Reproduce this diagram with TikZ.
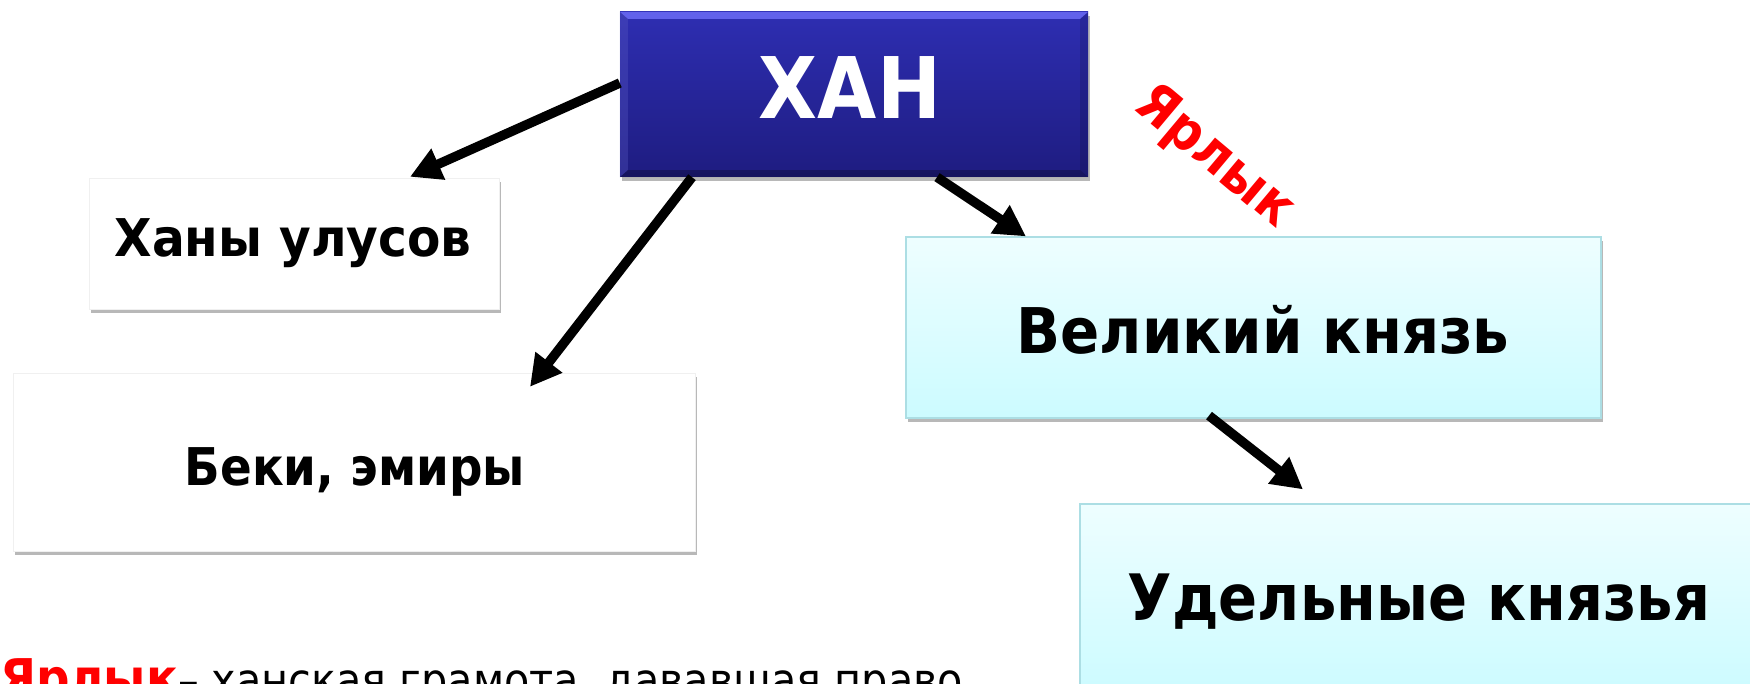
\documentclass[tikz,border=0pt]{standalone}
\usepackage{fontspec}
\setmainfont{DejaVu Sans}
\newfontfamily\cond{DejaVu Sans Condensed}
\usetikzlibrary{arrows.meta,shadows,calc}
\definecolor{khanA}{RGB}{46,46,178}
\definecolor{khanB}{RGB}{30,28,128}
\definecolor{bevelT}{RGB}{98,98,235}
\definecolor{cyanA}{RGB}{238,254,255}
\definecolor{cyanB}{RGB}{204,251,255}
\definecolor{cyanD}{RGB}{172,222,228}
\tikzset{
  boxshadow/.style={drop shadow={shadow xshift=1.5pt, shadow yshift=-4pt, fill=black, opacity=0.28}},
  khanbox/.style={rectangle, inner sep=0pt, top color=khanA, bottom color=khanB, draw=none, boxshadow},
  whitebox/.style={rectangle, inner sep=0pt, fill=white, draw=black!6, boxshadow},
  cyanbox/.style={rectangle, inner sep=0pt, top color=cyanA, bottom color=cyanB, draw=cyanD, line width=1.2pt, boxshadow},
  lbl/.style={inner sep=0pt, anchor=base, font=\cond\bfseries},
  arr/.style={line width=9.5pt, -{Triangle[length=31pt,width=32pt]}},
}
\begin{document}
\begin{tikzpicture}[x=1pt,y=-1pt]
\useasboundingbox (0,0) rectangle (1750,684);
\clip (0,0) rectangle (1750,684);
\fill[white] (0,0) rectangle (1750,684);

% boxes
\node[khanbox, minimum width=468pt, minimum height=165pt] (khan) at (854,94.5) {};
\fill[bevelT] (khan.north west) -- (khan.north east) -- ([xshift=-8pt,yshift=-7pt]khan.north east) -- ([xshift=8pt,yshift=-7pt]khan.north west) -- cycle;
\fill[khanA!80!white, opacity=0.35] (khan.north west) -- ([xshift=8pt,yshift=-7pt]khan.north west) -- ([xshift=8pt,yshift=7pt]khan.south west) -- (khan.south west) -- cycle;
\fill[black, opacity=0.25] (khan.south west) -- (khan.south east) -- ([xshift=-8pt,yshift=7pt]khan.south east) -- ([xshift=8pt,yshift=7pt]khan.south west) -- cycle;
\fill[black, opacity=0.12] (khan.north east) -- ([xshift=-8pt,yshift=-7pt]khan.north east) -- ([xshift=-8pt,yshift=7pt]khan.south east) -- (khan.south east) -- cycle;

\node[whitebox, minimum width=410pt, minimum height=131pt] (ulus) at (294,243.5) {};
\node[whitebox, minimum width=682pt, minimum height=178pt] (beki) at (354,462) {};
\node[cyanbox, minimum width=695pt, minimum height=181pt] (velik) at (1253.5,327.5) {};
\node[cyanbox, minimum width=690pt, minimum height=190pt] (udel) at (1425,599) {};

% labels
\node[lbl, text=white, font=\cond\bfseries\fontsize{85}{90}\selectfont] (khanT) at (850,119) {ХАН};
\node[lbl, font=\cond\bfseries\fontsize{52}{57}\selectfont] (ulusT) at (293,257) {\addfontfeature{FakeStretch=1.04}Ханы улусов};
\node[lbl, font=\cond\bfseries\fontsize{52}{57}\selectfont] (bekiT) at (355,485) {Беки, эмиры};
\node[lbl, font=\cond\bfseries\fontsize{63}{68}\selectfont] (velikT) at (1263,353) {\addfontfeature{FakeStretch=1.02}Великий князь};
\node[lbl, font=\cond\bfseries\fontsize{64}{69}\selectfont] (udelT) at (1419,620) {Удельные князья};

% rotated label
\node[inner sep=0pt, rotate=-40, text=red, font=\cond\bfseries\fontsize{55}{60}\selectfont] (yarlyk) at (1214,158) {Ярлык};

% bottom definition
\node[inner sep=0pt, anchor=base west, font=\cond\fontsize{46}{50}\selectfont] (defn) at (0,696) {{\color{red}\bfseries\fontsize{52}{56}\selectfont Ярлык}– ханская грамота, дававшая право};

% arrows
\draw[arr] ([yshift=11.5pt]khan.west) -- ([xshift=116pt,yshift=1pt]ulus.north);
\draw[arr] ([xshift=-162pt]khan.south) -- ([xshift=176pt,yshift=-14pt]beki.north);
\draw[arr] ([xshift=83pt]khan.south) -- ([xshift=-227.5pt]velik.north);
\draw[arr] ([xshift=-44.5pt,yshift=3pt]velik.south) -- ([xshift=-122pt,yshift=14pt]udel.north);
\end{tikzpicture}
\end{document}
